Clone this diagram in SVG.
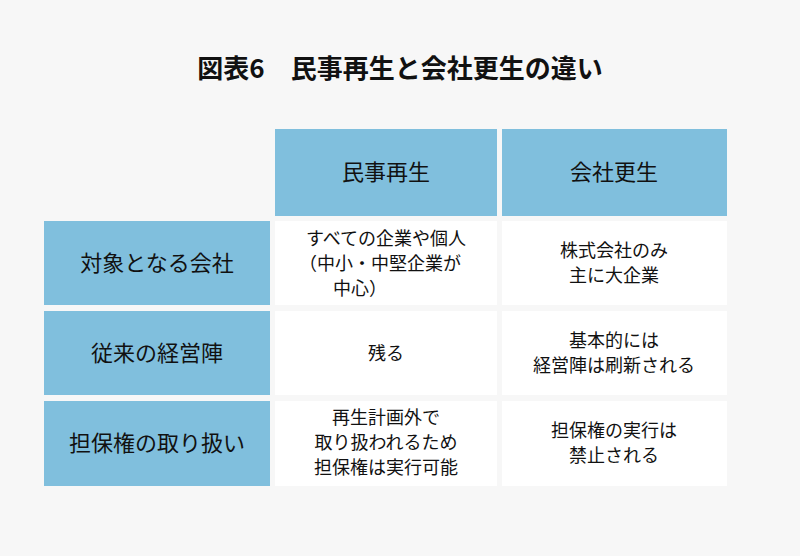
<svg xmlns="http://www.w3.org/2000/svg" width="800" height="556" viewBox="0 0 800 556">
<style>
.h{fill:#80bfdd}.c{fill:#ffffff}
text{font-family:"Noto Sans CJK JP","Noto Sans",sans-serif;fill:#111;text-anchor:middle}
.t{font-size:26px;font-weight:bold}
.hl{font-size:22px}.rl{font-size:22px}.cl{font-size:18px}
</style>
<rect width="800" height="556" fill="#f7f7f7"/>
<text class="t" x="400" y="78">図表6　民事再生と会社更生の違い</text>
<g id="hdr1"><rect class="h" x="275" y="129" width="222" height="87"/><text class="hl" x="386" y="180">民事再生</text></g>
<g id="hdr2"><rect class="h" x="502" y="129" width="225" height="87"/><text class="hl" x="614" y="180">会社更生</text></g>
<g id="r1"><rect class="h" x="44" y="221" width="226" height="84"/><text class="rl" x="157" y="271">対象となる会社</text></g>
<g id="r2"><rect class="h" x="44" y="311" width="226" height="84"/><text class="rl" x="157" y="361">従来の経営陣</text></g>
<g id="r3"><rect class="h" x="44" y="401" width="226" height="85"/><text class="rl" x="157" y="451">担保権の取り扱い</text></g>
<g id="c11"><rect class="c" x="275" y="221" width="222" height="84"/><text class="cl" x="386" y="245">すべての企業や個人</text><text class="cl" x="380" y="270">（中小・中堅企業が</text><text class="cl" x="360" y="295">中心）</text></g>
<g id="c12"><rect class="c" x="502" y="221" width="225" height="84"/><text class="cl" x="614" y="257">株式会社のみ</text><text class="cl" x="614" y="282">主に大企業</text></g>
<g id="c21"><rect class="c" x="275" y="311" width="222" height="84"/><text class="cl" x="386" y="360">残る</text></g>
<g id="c22"><rect class="c" x="502" y="311" width="225" height="84"/><text class="cl" x="614" y="347">基本的には</text><text class="cl" x="614" y="372">経営陣は刷新される</text></g>
<g id="c31"><rect class="c" x="275" y="401" width="222" height="85"/><text class="cl" x="386" y="424">再生計画外で</text><text class="cl" x="386" y="449">取り扱われるため</text><text class="cl" x="386" y="474">担保権は実行可能</text></g>
<g id="c32"><rect class="c" x="502" y="401" width="225" height="85"/><text class="cl" x="614" y="437">担保権の実行は</text><text class="cl" x="614" y="462">禁止される</text></g>
<g id="connectors"/>
</svg>
